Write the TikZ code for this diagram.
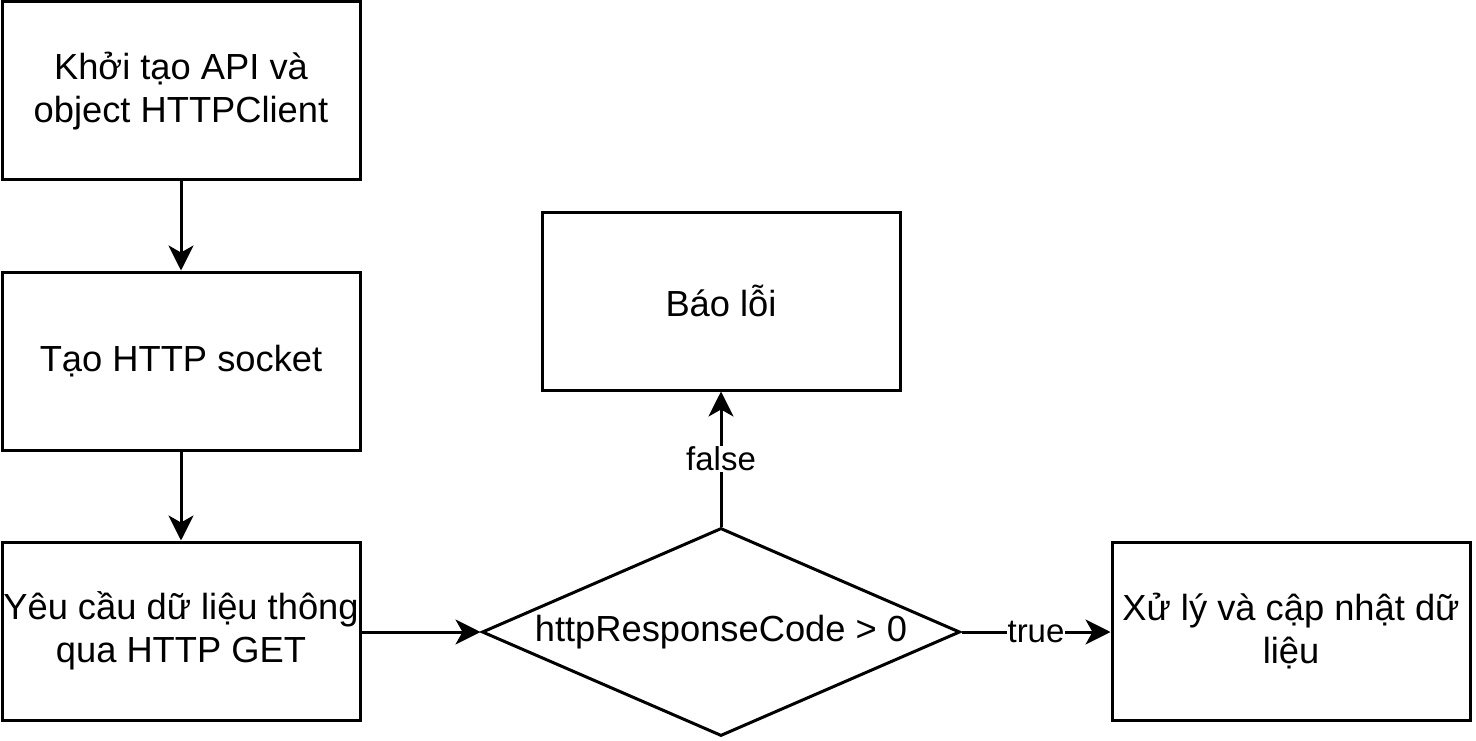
\documentclass[tikz,border=0pt]{standalone}
\usepackage{fontspec}
\setmainfont{Liberation Sans}
\usetikzlibrary{shapes.geometric,arrows.meta}
\begin{document}
\begin{tikzpicture}[x=1pt,y=-1pt,
  every node/.style={font=\fontsize{36.3}{43}\selectfont},
  stepbox/.style={draw, line width=3pt, minimum width=358pt, minimum height=178pt, inner sep=0pt, align=center, anchor=center},
  decision/.style={draw, diamond, line width=3pt, minimum width=478pt, minimum height=208pt, inner sep=0pt, aspect=2.286},
  flow/.style={line width=3pt, -{Stealth[length=25pt,width=25pt,inset=7pt]}},
  lbl/.style={fill=white, inner sep=1pt, font=\fontsize{33}{38}\selectfont}]
\useasboundingbox (0,0) rectangle (1476,741);
\node[stepbox] (b1) at (181,91) {Khởi tạo API và\\object HTTPClient};
\node[stepbox] (b2) at (181,361) {Tạo HTTP socket};
\node[stepbox] (b3) at (181,631) {Yêu cầu dữ liệu thông\\qua HTTP GET};
\node[decision] (d) at (721,632) {httpResponseCode > 0};
\node[stepbox] (err) at (721,301) {Báo lỗi};
\node[stepbox] (ok) at (1291,631) {Xử lý và cập nhật dữ\\liệu};
\draw[flow] (b1) -- (b2);
\draw[flow] (b2) -- (b3);
\draw[flow] (b3.east |- d.west) -- (d.west);
\draw[flow] (d.north) -- node[lbl] {false} (err.south);
\draw[flow] (d.east) -- node[lbl] {true} (ok.west |- d.east);
\end{tikzpicture}
\end{document}
